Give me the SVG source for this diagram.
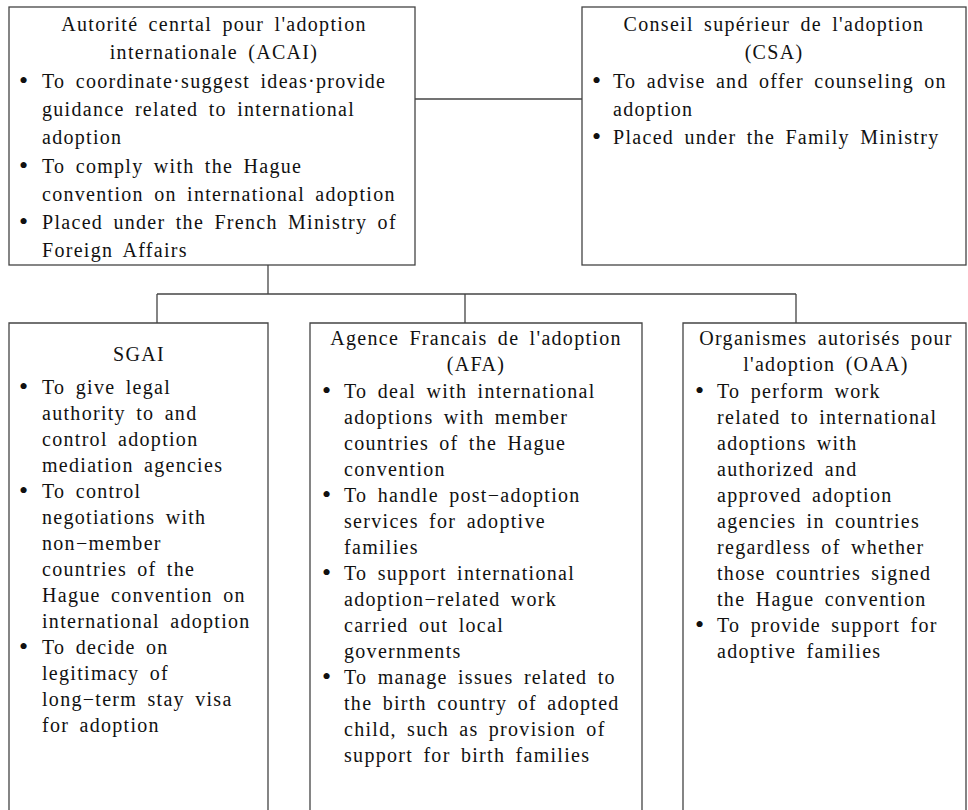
<svg xmlns="http://www.w3.org/2000/svg" width="968" height="810" viewBox="0 0 968 810">
<style>
.box{fill:none;stroke:#444;stroke-width:1.3}
.ln{fill:none;stroke:#444;stroke-width:1.3}
text{font-family:'Liberation Serif','DejaVu Serif',serif;font-size:20px;fill:#111;letter-spacing:1.3px;word-spacing:4px}
.c{text-anchor:middle}
.b{letter-spacing:0;word-spacing:0;font-size:26px}
</style>
<rect width="968" height="810" fill="#fff"/>
<g id="connectors">
<path class="ln" d="M415 99H582"/>
<path class="ln" d="M268 265V294"/>
<path class="ln" d="M157 294H796"/>
<path class="ln" d="M157 294V323M465 294V323M796 294V323"/>
</g>
<g id="acai">
<rect class="box" x="9" y="7" width="406" height="258"/>
<text class="c" x="214" y="31">Autorité cenrtal pour l'adoption</text>
<text class="c" x="214" y="59">internationale (ACAI)</text>
<text class="b" x="19" y="89">•</text>
<text x="42" y="88">To coordinate·suggest ideas·provide</text>
<text x="42" y="116">guidance related to international</text>
<text x="42" y="144">adoption</text>
<text class="b" x="19" y="174">•</text>
<text x="42" y="173">To comply with the Hague</text>
<text x="42" y="201">convention on international adoption</text>
<text class="b" x="19" y="230">•</text>
<text x="42" y="229">Placed under the French Ministry of</text>
<text x="42" y="257">Foreign Affairs</text>
</g>
<g id="csa">
<rect class="box" x="582" y="7" width="384" height="258"/>
<text class="c" x="774" y="31">Conseil supérieur de l'adoption</text>
<text class="c" x="774" y="59">(CSA)</text>
<text class="b" x="592" y="89">•</text>
<text x="613" y="88">To advise and offer counseling on</text>
<text x="613" y="116">adoption</text>
<text class="b" x="592" y="145">•</text>
<text x="613" y="144">Placed under the Family Ministry</text>
</g>
<g id="sgai">
<path class="box" d="M9 812V323H268V812"/>
<text class="c" x="139" y="361">SGAI</text>
<text class="b" x="19" y="395">•</text>
<text x="42" y="394">To give legal</text>
<text x="42" y="420">authority to and</text>
<text x="42" y="446">control adoption</text>
<text x="42" y="472">mediation agencies</text>
<text class="b" x="19" y="499">•</text>
<text x="42" y="498">To control</text>
<text x="42" y="524">negotiations with</text>
<text x="42" y="550">non−member</text>
<text x="42" y="576">countries of the</text>
<text x="42" y="602">Hague convention on</text>
<text x="42" y="628">international adoption</text>
<text class="b" x="19" y="655">•</text>
<text x="42" y="654">To decide on</text>
<text x="42" y="680">legitimacy of</text>
<text x="42" y="706">long−term stay visa</text>
<text x="42" y="732">for adoption</text>
</g>
<g id="afa">
<path class="box" d="M310 812V323H642V812"/>
<text class="c" x="476" y="345">Agence Francais de l'adoption</text>
<text class="c" x="476" y="371">(AFA)</text>
<text class="b" x="322" y="399">•</text>
<text x="344" y="398">To deal with international</text>
<text x="344" y="424">adoptions with member</text>
<text x="344" y="450">countries of the Hague</text>
<text x="344" y="476">convention</text>
<text class="b" x="322" y="503">•</text>
<text x="344" y="502">To handle post−adoption</text>
<text x="344" y="528">services for adoptive</text>
<text x="344" y="554">families</text>
<text class="b" x="322" y="581">•</text>
<text x="344" y="580">To support international</text>
<text x="344" y="606">adoption−related work</text>
<text x="344" y="632">carried out local</text>
<text x="344" y="658">governments</text>
<text class="b" x="322" y="685">•</text>
<text x="344" y="684">To manage issues related to</text>
<text x="344" y="710">the birth country of adopted</text>
<text x="344" y="736">child, such as provision of</text>
<text x="344" y="762">support for birth families</text>
</g>
<g id="oaa">
<path class="box" d="M683 812V323H966V812"/>
<text class="c" x="826" y="345">Organismes autorisés pour</text>
<text class="c" x="826" y="371">l'adoption (OAA)</text>
<text class="b" x="695" y="399">•</text>
<text x="717" y="398">To perform work</text>
<text x="717" y="424">related to international</text>
<text x="717" y="450">adoptions with</text>
<text x="717" y="476">authorized and</text>
<text x="717" y="502">approved adoption</text>
<text x="717" y="528">agencies in countries</text>
<text x="717" y="554">regardless of whether</text>
<text x="717" y="580">those countries signed</text>
<text x="717" y="606">the Hague convention</text>
<text class="b" x="695" y="633">•</text>
<text x="717" y="632">To provide support for</text>
<text x="717" y="658">adoptive families</text>
</g>
</svg>
